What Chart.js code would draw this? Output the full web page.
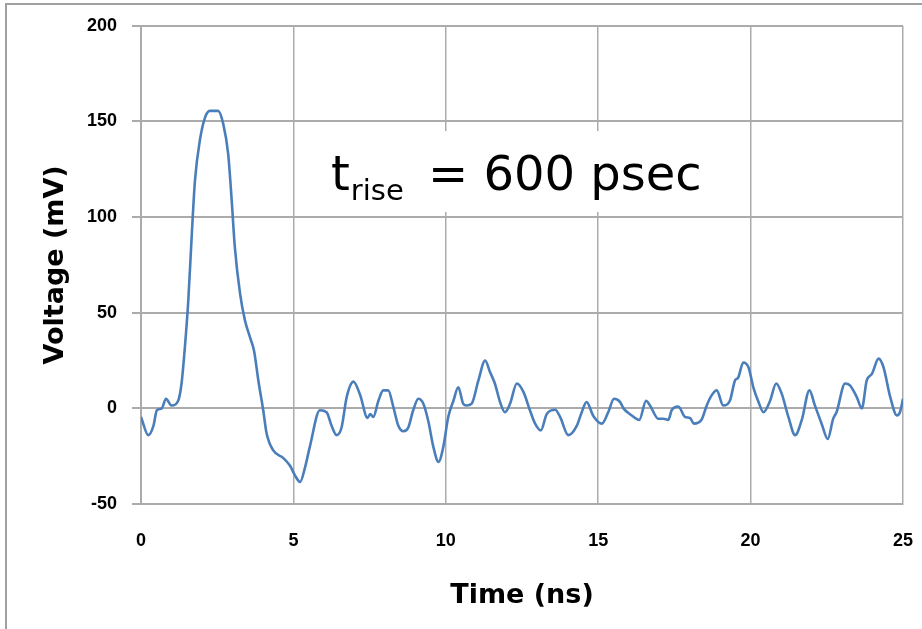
<!DOCTYPE html>
<html>
<head>
<meta charset="utf-8">
<script src="https://cdn.jsdelivr.net/npm/chart.js@4.4.1/dist/chart.umd.min.js"></script>
<style>
  html, body { margin: 0; padding: 0; background: #fff; }
  #wrap { width: 922px; height: 629px; position: relative; }
</style>
</head>
<body>
<div id="wrap"><canvas id="pulseChart"></canvas></div>
<script>
// Time (ns) and voltage (mV)
const times = [0.0, 0.24, 0.41, 0.52, 0.68, 0.82, 1.0, 1.22, 1.33, 1.44, 1.55, 1.66, 1.77, 1.93, 2.1, 2.26, 2.53, 2.7, 2.86, 2.97,
  3.08, 3.25, 3.41, 3.58, 3.71, 3.85, 4.01, 4.12, 4.34, 4.67, 4.89, 5.05, 5.22, 5.38, 5.54, 5.87, 6.09, 6.25, 6.42, 6.58,
  6.75, 6.97, 7.19, 7.43, 7.52, 7.62, 7.79, 7.95, 8.11, 8.28, 8.44, 8.61, 8.77, 8.93, 9.1, 9.26, 9.43, 9.59, 9.76, 9.92,
  10.08, 10.25, 10.41, 10.57, 10.68, 10.85, 11.07, 11.29, 11.45, 11.61, 11.78, 11.94, 12.11, 12.33, 12.55, 12.76, 12.93, 13.12, 13.31, 13.59,
  13.75, 14.02, 14.3, 14.46, 14.62, 14.84, 15.12, 15.33, 15.52, 15.72, 15.83, 16.1, 16.35, 16.57, 16.7, 16.97, 17.14, 17.3, 17.41, 17.63,
  17.85, 18.01, 18.14, 18.39, 18.56, 18.72, 18.89, 19.1, 19.32, 19.49, 19.59, 19.76, 19.93, 20.09, 20.26, 20.42, 20.64, 20.84, 21.02, 21.24,
  21.46, 21.68, 21.93, 22.11, 22.33, 22.53, 22.71, 22.82, 23.1, 23.26, 23.48, 23.65, 23.81, 23.98, 24.2, 24.36, 24.58, 24.8, 24.9, 25.0];
const volts = [-4.5, -14, -9, -1, 0, 5, 1.5, 4, 13, 32, 56, 89, 119, 140, 152, 155.5, 155.5, 148.6, 133, 110,
  84, 60, 46, 37, 30, 14.6, -1, -13, -22, -26, -30, -35, -38.5, -31, -20, -1, -2, -9, -14, -10,
  6, 14, 7, -5, -3, -4.5, 4, 9.4, 9.4, 0.7, -9, -12, -10, -1, 5, 2.5, -7, -20, -28, -20,
  -4.5, 4, 11, 2.5, 1.5, 2.5, 14.6, 25, 19, 13, 3.3, -2, 2.5, 13, 8.5, -1, -8, -11.5, -3, -0.7,
  -4.5, -14, -9, -2, 3.3, -4, -8, -2, 5, 3.3, 0, -3.7, -6, 4, 1.5, -5.4, -5.4, -6, -1, 1,
  -4.5, -5, -8, -6, 1.5, 6.8, 9.4, 1.5, 4, 14.6, 16, 24, 21.5, 11, 3.3, -2, 4, 13, 7.7, -4.5,
  -14, -6, 9.4, 1.5, -8, -16, -5.4, -2, 13, 12, 6, 0, 14.6, 18, 26, 21.5, 6, -3.7, -2, 5];

const xTicks = [0, 5, 10, 15, 20, 25];
const yTicks = [-50, 0, 50, 100, 150, 200];

const gridColor = '#ababab';

// picture frame (left + top edge) and the rise-time note
const extras = {
  id: 'extras',
  afterDraw(chart) {
    const c = chart.ctx;
    c.save();
    c.strokeStyle = '#a0a0a0';
    c.lineWidth = 2;
    c.beginPath();
    c.moveTo(6, 629);
    c.lineTo(6, 4);
    c.lineTo(922, 4);
    c.stroke();

    // white box behind the note
    c.fillStyle = '#fff';
    c.fillRect(308, 131, 420, 81);

    c.fillStyle = '#000';
    c.textBaseline = 'alphabetic';
    c.font = '48px "DejaVu Sans", Verdana, sans-serif';
    c.fillText('t', 331, 190);
    const tw = c.measureText('t').width;
    c.font = '29px "DejaVu Sans", Verdana, sans-serif';
    c.fillText('rise', 331 + tw + 1, 200);
    c.font = '48px "DejaVu Sans", Verdana, sans-serif';
    c.fillText('= 600 psec', 428, 190);
    c.restore();
  }
};

const ctx = document.getElementById('pulseChart').getContext('2d');

const pulseChart = new Chart(ctx, {
  type: 'line',
  data: {
    datasets: [{
      label: 'Voltage',
      data: times.map((t, i) => ({ x: t, y: volts[i] })),
      borderColor: '#4a7ebb',
      borderWidth: 2.6,
      pointRadius: 0,
      cubicInterpolationMode: 'monotone',
      fill: false
    }]
  },
  options: {
    responsive: true,
    maintainAspectRatio: false,
    animation: false,
    layout: { padding: { left: 0, top: 25, right: 19, bottom: 0 } },
    plugins: {
      legend: { display: false },
      tooltip: { enabled: false }
    },
    scales: {
      x: {
        type: 'linear',
        min: 0,
        max: 25,
        afterBuildTicks: (scale) => { scale.ticks = xTicks.map(v => ({ value: v })); },
        afterFit: (scale) => {
          scale.height = 125;
          scale.paddingLeft = 0;
          scale.paddingRight = 0;
        },
        grid: { color: gridColor, lineWidth: 1.5, drawTicks: false },
        border: { color: gridColor, width: 2 },
        ticks: {
          padding: 26,
          color: '#000',
          font: { family: '"Liberation Sans", Arial, sans-serif', size: 18, weight: 'bold' }
        },
        title: {
          display: true,
          text: 'Time (ns)',
          color: '#000',
          padding: { top: 0, bottom: 17 },
          font: { family: '"DejaVu Sans", Verdana, sans-serif', size: 27, weight: 'bold' }
        }
      },
      y: {
        min: -50,
        max: 200,
        afterBuildTicks: (scale) => { scale.ticks = yTicks.map(v => ({ value: v })); },
        afterFit: (scale) => { scale.width = 141; },
        grid: { color: gridColor, lineWidth: 2, tickLength: 9 },
        border: { color: gridColor, width: 2 },
        ticks: {
          padding: 15,
          color: '#000',
          font: { family: '"Liberation Sans", Arial, sans-serif', size: 18, weight: 'bold' }
        },
        title: {
          display: true,
          text: 'Voltage (mV)',
          color: '#000',
          padding: { top: 40, bottom: 0 },
          font: { family: '"DejaVu Sans", Verdana, sans-serif', size: 27, weight: 'bold' }
        }
      }
    }
  },
  plugins: [extras]
});
</script>
</body>
</html>
